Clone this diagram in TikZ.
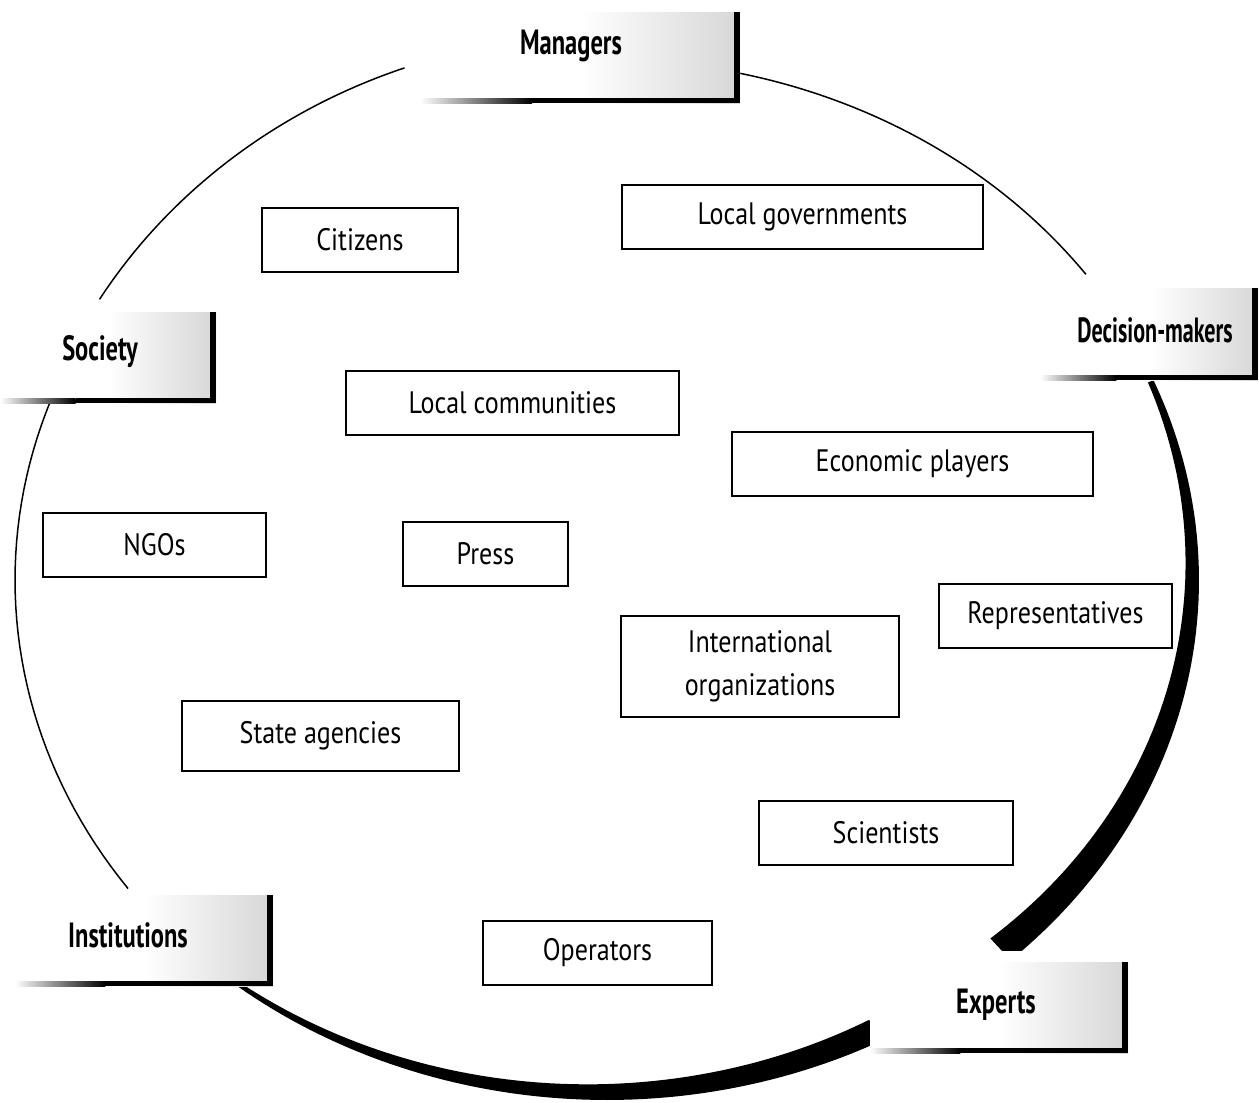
\documentclass[tikz,border=0pt]{standalone}
\usepackage{fontspec}
\newfontfamily\boxfont[FakeStretch=0.84]{PT Sans}
\newfontfamily\labfont[FakeStretch=0.7]{PT Sans}
\newfontfamily\labfontn[FakeStretch=0.63]{PT Sans}
\newcommand\labdeco[4]{%
  \fill[white] (#1,#2) rectangle (#3,#4);
  \pgfmathsetmacro\midx{#1+0.5*(#3-#1)}
  \shade[left color=white,right color=black!16] (\midx,#2) rectangle (#3,#4);
  \pgfmathsetmacro\fadex{#1+0.35*(#3-#1)}
  \shade[left color=white,right color=black] (#1,#4-5) rectangle (\fadex,#4);
  \fill (\fadex,#4-5) rectangle (#3,#4);
  \fill (#3-6,#2) rectangle (#3,#4);
}
\begin{document}
\begin{tikzpicture}[x=0.5pt,y=-0.5pt,
  box/.style={draw,line width=1pt,inner sep=0pt,minimum height=32pt,
    font=\boxfont\fontsize{15.5}{21.5}\selectfont,align=center},
  lab/.style={inner sep=0pt,font=\labfont\bfseries\fontsize{17.5}{20}\selectfont},
  thinarc/.style={line width=0.75pt}]
\useasboundingbox (0,0) rectangle (1259,1103);
\fill[white] (0,0) rectangle (1259,1103);
% thin arcs
\draw[thinarc] plot[domain=110:149,samples=40,variable=\t] ({607+592*cos(\t)},{580-545*sin(\t)});
\draw[thinarc] plot[domain=160:216,samples=40,variable=\t] ({607+592*cos(\t)},{580-525*sin(\t)});
\draw[thinarc] plot[domain=36:77,samples=40,variable=\t] ({607+592*cos(\t)},{580-520*sin(\t)});
% thick arcs
\begin{scope}
\clip (0,0) rectangle (1259,950);
\fill plot[domain=22.6:-47,samples=60,variable=\t] ({607+592*cos(\t)},{580-520*sin(\t)})
  -- plot[domain=-47:22.6,samples=60,variable=\t] ({607+(592-(6+(22.6-\t)*24/70))*cos(\t)},{580-(520-(6+(22.6-\t)*24/70))*sin(\t)}) -- cycle;
\end{scope}
\fill plot[domain=230:297.5,samples=60,variable=\t] ({607+592*cos(\t)},{580-520*sin(\t)})
  -- plot[domain=297.5:230,samples=60,variable=\t] ({607+(592-(4+(\t-230)*20/67))*cos(\t)},{580-(520-(4+(\t-230)*20/67))*sin(\t)}) -- cycle;
% labels
\labdeco{420}{12}{740}{103}
\node[lab] (managers) at (571,46) {Managers};
\labdeco{1040}{288}{1258}{380}
\node[lab,font=\labfontn\bfseries\fontsize{17.5}{20}\selectfont] (decision) at (1155,330) {Decision-makers};
\labdeco{0}{312}{216}{403}
\node[lab] (society) at (100,352) {Society};
\labdeco{15}{895}{273}{986}
\node[lab] (institutions) at (128,935) {Institutions};
\labdeco{870}{962}{1128}{1053}
\node[lab] (experts) at (996,1005) {Experts};
% boxes
\node[box,minimum width=98pt] (citizens) at (360,239.5) {Citizens};
\node[box,minimum width=180.5pt] (localgov) at (802.5,217) {Local governments};
\node[box,minimum width=166.5pt] (localcom) at (512.5,402.5) {Local communities};
\node[box,minimum width=180.5pt] (econ) at (912.5,463.5) {Economic players};
\node[box,minimum width=111.5pt] (ngos) at (154.5,545) {NGOs};
\node[box,minimum width=82.5pt] (press) at (485.5,554) {Press};
\node[box,minimum width=116.5pt] (repr) at (1055.5,616) {Representatives};
\node[box,minimum width=139pt,minimum height=50.5pt] (intorg) at (760,666.5) {International\\organizations};
\node[box,minimum width=138.5pt,minimum height=35pt] (state) at (320.5,736) {State agencies};
\node[box,minimum width=127pt] (sci) at (886,832.5) {Scientists};
\node[box,minimum width=114.5pt] (oper) at (597.5,953) {Operators};
\end{tikzpicture}
\end{document}
